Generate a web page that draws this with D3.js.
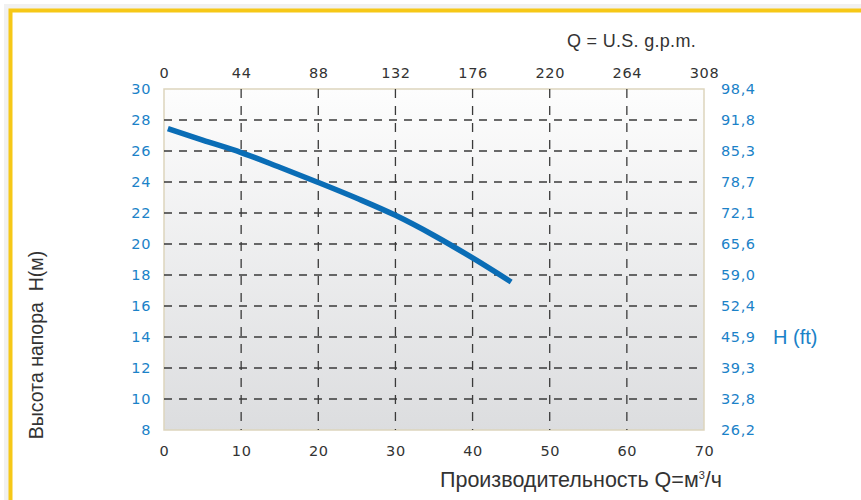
<!DOCTYPE html>
<html>
<head>
<meta charset="utf-8">
<script src="https://cdn.jsdelivr.net/npm/d3@7"></script>
<style>
  body { margin: 0; background: #fff; }
  svg { display: block; }
  .tick-label { font-family: "DejaVu Sans", sans-serif; font-size: 14.5px; letter-spacing: 0.6px; }
  .title { font-family: "Liberation Sans", Arial, sans-serif; fill: #333; }
</style>
</head>
<body>
<div id="wrapper"></div>
<script>
// pump curve
const flowM3h = [0.5, 5, 10, 15, 20, 25, 30, 35, 40, 45];
const headM = [27.45, 26.7, 25.9, 24.95, 23.97, 22.95, 21.85, 20.55, 19.1, 17.55];

const bottomTicks = [0, 10, 20, 30, 40, 50, 60, 70];
const gpmTicks = [0, 44, 88, 132, 176, 220, 264, 308];
const headTicks = [8, 10, 12, 14, 16, 18, 20, 22, 24, 26, 28, 30];
const feetLabels = ["26,2", "32,8", "39,3", "45,9", "52,4", "59,0", "65,6", "72,1", "78,7", "85,3", "91,8", "98,4"];

function drawChart() {
  //* dimensions
  let dimensions = {
    width: 861,
    height: 500,
    margin: { top: 89, right: 157, bottom: 70, left: 164 },
  };
  dimensions.boundedWidth =
    dimensions.width - dimensions.margin.left - dimensions.margin.right;
  dimensions.boundedHeight =
    dimensions.height - dimensions.margin.top - dimensions.margin.bottom;

  const blue = "#1b82c8";
  const grey = "#333";

  //* canvas
  const wrapper = d3
    .select("#wrapper")
    .append("svg")
    .attr("width", dimensions.width)
    .attr("height", dimensions.height);

  // yellow frame (only top and left edges are visible) with a soft shadow
  wrapper.append("path")
    .attr("d", "M8,500 V8 H861")
    .attr("fill", "none")
    .attr("stroke", "#f1f1f1")
    .attr("stroke-width", 8);
  wrapper.append("path")
    .attr("d", "M10.5,500 V10.5 H861")
    .attr("fill", "none")
    .attr("stroke", "#f6c817")
    .attr("stroke-width", 4);

  const defs = wrapper.append("defs");
  const grad = defs.append("linearGradient")
    .attr("id", "bg")
    .attr("x1", 0).attr("y1", 0).attr("x2", 0).attr("y2", 1);
  grad.append("stop").attr("offset", "0%").attr("stop-color", "#fdfdfd");
  grad.append("stop").attr("offset", "100%").attr("stop-color", "#dcdddf");

  const bounds = wrapper
    .append("g")
    .attr("transform", `translate(${dimensions.margin.left}, ${dimensions.margin.top})`);

  //* scales
  const xScale = d3.scaleLinear()
    .domain([0, 70])
    .range([0, dimensions.boundedWidth]);
  const gpmScale = d3.scaleLinear()
    .domain([0, 308])
    .range([0, dimensions.boundedWidth]);
  const yScale = d3.scaleLinear()
    .domain([8, 30])
    .range([dimensions.boundedHeight, 0]);

  //* plot area + grid
  bounds.append("rect")
    .attr("width", dimensions.boundedWidth)
    .attr("height", dimensions.boundedHeight)
    .attr("fill", "url(#bg)")
    .attr("stroke", "#ddd5bd")
    .attr("stroke-width", 1.5);

  bounds.append("g")
    .selectAll("line")
    .data(headTicks.filter((d) => d > 8 && d < 30))
    .join("line")
    .attr("x1", 0)
    .attr("x2", dimensions.boundedWidth)
    .attr("y1", (d) => yScale(d))
    .attr("y2", (d) => yScale(d))
    .attr("stroke", "#3a3a3a")
    .attr("stroke-width", 1.3)
    .attr("stroke-dasharray", "8,7");

  bounds.append("g")
    .selectAll("line")
    .data(bottomTicks.filter((d) => d > 0 && d < 70))
    .join("line")
    .attr("x1", (d) => xScale(d))
    .attr("x2", (d) => xScale(d))
    .attr("y1", 0)
    .attr("y2", dimensions.boundedHeight)
    .attr("stroke", "#3a3a3a")
    .attr("stroke-width", 1.3)
    .attr("stroke-dasharray", "9,8");

  //* curve
  const lineGenerator = d3.line()
    .x((d, i) => xScale(flowM3h[i]))
    .y((d) => yScale(d))
    .curve(d3.curveMonotoneX);

  bounds.append("path")
    .attr("d", lineGenerator(headM))
    .attr("fill", "none")
    .attr("stroke", "#0a6db6")
    .attr("stroke-width", 5.5);

  //* axes (d3 axes, domain paths and tick lines hidden)
  const xAxis = bounds.append("g")
    .attr("transform", `translate(0, ${dimensions.boundedHeight})`)
    .call(d3.axisBottom(xScale).tickValues(bottomTicks).tickSize(0).tickPadding(16));

  const topAxis = bounds.append("g")
    .call(d3.axisTop(gpmScale).tickValues(gpmTicks).tickSize(0).tickPadding(11));

  const leftAxis = bounds.append("g")
    .call(d3.axisLeft(yScale).tickValues(headTicks).tickSize(0).tickPadding(13));

  const rightAxis = bounds.append("g")
    .attr("transform", `translate(${dimensions.boundedWidth}, 0)`)
    .call(d3.axisRight(yScale)
      .tickValues(headTicks)
      .tickFormat((d, i) => feetLabels[i])
      .tickSize(0)
      .tickPadding(17));

  [xAxis, topAxis, leftAxis, rightAxis].forEach((ax) => {
    ax.select(".domain").remove();
    ax.selectAll("text")
      .attr("class", "tick-label")
      .attr("font-family", null)
      .attr("font-size", null);
  });
  xAxis.selectAll("text").attr("fill", grey);
  topAxis.selectAll("text").attr("fill", grey);
  leftAxis.selectAll("text").attr("fill", blue);
  rightAxis.selectAll("text").attr("fill", blue);

  //* titles
  wrapper.append("text")
    .attr("class", "title")
    .attr("x", 696)
    .attr("y", 47)
    .attr("text-anchor", "end")
    .style("font-size", "18px")
    .style("letter-spacing", "0.3px")
    .text("Q = U.S. g.p.m.");

  const bottomTitle = wrapper.append("text")
    .attr("class", "title")
    .attr("x", 722)
    .attr("y", 487)
    .attr("text-anchor", "end")
    .style("font-size", "21.5px");
  bottomTitle.append("tspan").text("Производительность Q=м");
  bottomTitle.append("tspan").attr("dy", -8).style("font-size", "11px").text("3");
  bottomTitle.append("tspan").attr("dy", 8).text("/ч");

  wrapper.append("text")
    .attr("class", "title")
    .attr("transform", "translate(43, 345) rotate(-90)")
    .attr("text-anchor", "middle")
    .style("font-size", "19.5px")
    .style("white-space", "pre")
    .attr("xml:space", "preserve")
    .text("Высота напора  H(м)");

  wrapper.append("text")
    .attr("class", "title")
    .attr("x", 773)
    .attr("y", dimensions.margin.top + yScale(14) + 7)
    .style("fill", blue)
    .style("font-size", "20px")
    .text("H (ft)");
}
drawChart();
</script>
</body>
</html>
